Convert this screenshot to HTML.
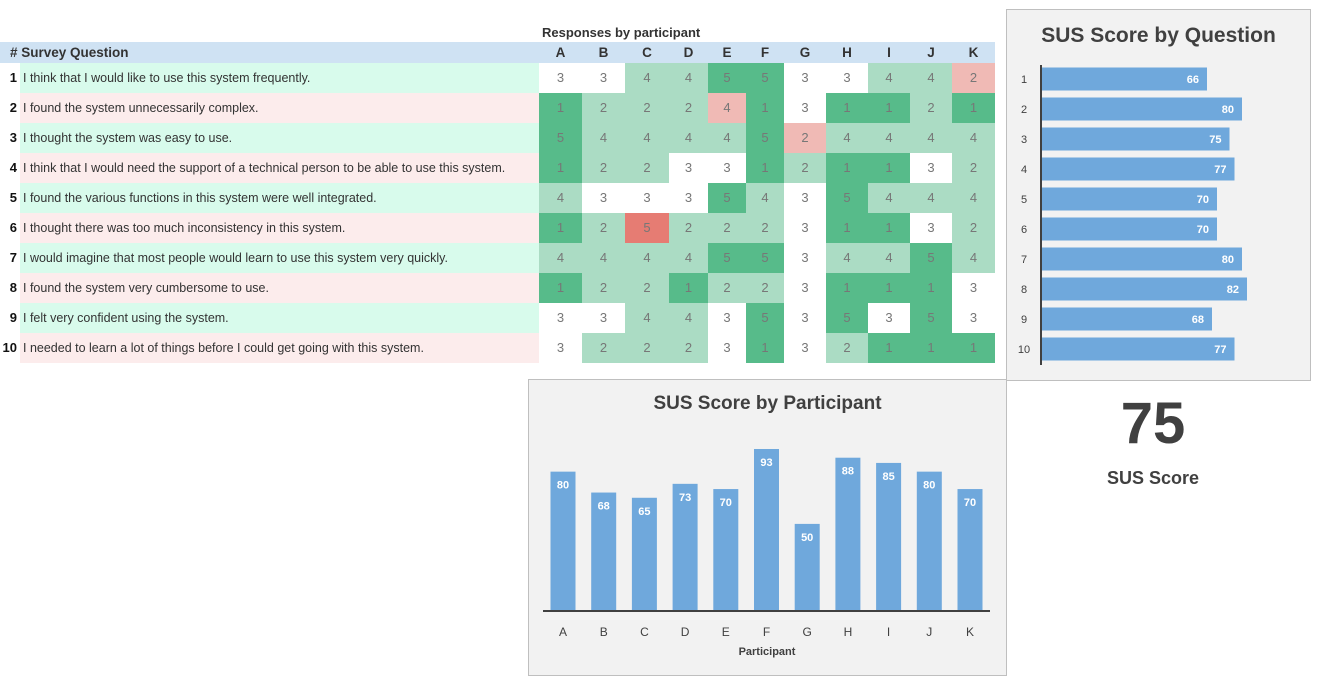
<!DOCTYPE html>
<html><head><meta charset="utf-8"><style>
body{margin:0;width:1319px;height:686px;background:#fff;position:relative;overflow:hidden;font-family:"Liberation Sans",sans-serif}
.abs{position:absolute}
.q{position:absolute;left:20px;width:519px;height:30px;line-height:30px;font-size:12.5px;color:#333;padding-left:3px;box-sizing:border-box}
.qn{position:absolute;left:0;width:20px;text-align:right;height:30px;line-height:30px;font-size:13px;font-weight:bold;color:#111;padding-right:3px;box-sizing:border-box}
.c{position:absolute;height:30px;line-height:30px;text-align:center;font-size:13px;color:#777}
.panel{position:absolute;background:#f2f2f2;border:1px solid #bfbfbf;box-sizing:border-box}
</style></head><body>
<div class="abs" style="left:542px;top:25px;font-size:13px;font-weight:bold;color:#333">Responses by participant</div>
<div class="abs" style="left:0;top:42px;width:995px;height:21px;background:#cfe2f3"></div>
<div class="abs" style="left:10px;top:42px;line-height:22px;font-size:13.5px;font-weight:bold;color:#333"># Survey Question</div>
<div id="grid"></div>
<div class="panel" style="left:1006px;top:9px;width:305px;height:372px"></div>
<div class="abs" style="left:1006px;top:24px;width:305px;text-align:center;font-size:21px;font-weight:bold;color:#404040">SUS Score by Question</div>
<svg id="qchart" class="abs" style="left:1006px;top:9px" width="305" height="372"></svg>
<div class="panel" style="left:528px;top:379px;width:479px;height:297px"></div>
<div class="abs" style="left:528px;top:393px;width:479px;text-align:center;font-size:19px;font-weight:bold;color:#404040">SUS Score by Participant</div>
<svg id="pchart" class="abs" style="left:528px;top:379px" width="479" height="297"></svg>
<div class="abs" style="left:1006px;top:390px;width:294px;text-align:center;font-size:58px;font-weight:bold;color:#404040">75</div>
<div class="abs" style="left:1006px;top:468px;width:294px;text-align:center;font-size:18px;font-weight:bold;color:#404040">SUS Score</div>
<script>
const questions=["I think that I would like to use this system frequently.","I found the system unnecessarily complex.","I thought the system was easy to use.","I think that I would need the support of a technical person to be able to use this system.","I found the various functions in this system were well integrated.","I thought there was too much inconsistency in this system.","I would imagine that most people would learn to use this system very quickly.","I found the system very cumbersome to use.","I felt very confident using the system.","I needed to learn a lot of things before I could get going with this system."];
const participants=["A","B","C","D","E","F","G","H","I","J","K"];
const responses=[[3,3,4,4,5,5,3,3,4,4,2],[1,2,2,2,4,1,3,1,1,2,1],[5,4,4,4,4,5,2,4,4,4,4],[1,2,2,3,3,1,2,1,1,3,2],[4,3,3,3,5,4,3,5,4,4,4],[1,2,5,2,2,2,3,1,1,3,2],[4,4,4,4,5,5,3,4,4,5,4],[1,2,2,1,2,2,3,1,1,1,3],[3,3,4,4,3,5,3,5,3,5,3],[3,2,2,2,3,1,3,2,1,1,1]];
const questionScores=[66,80,75,77,70,70,80,82,68,77];
const participantScores=[80,68,65,73,70,93,50,88,85,80,70];
const colX=[539,582,625,669,708,746,784,826,868,910,952,995];
const g=document.getElementById('grid');
const pal={5:'#57bb8a',4:'#abdcc4',3:'#ffffff',2:'#f0bab5',1:'#e67c73'};
participants.forEach((p,j)=>{const d=document.createElement('div');


d.className='c';d.style.cssText=`left:${colX[j]}px;width:${colX[j+1]-colX[j]}px;top:42px;height:21px;line-height:22px;font-weight:bold;color:#333;font-size:13.5px`;d.textContent=p;g.appendChild(d);});
questions.forEach((q,i)=>{const y=63+30*i;
const n=document.createElement('div');n.className='qn';n.style.top=y+'px';n.textContent=i+1;

g.appendChild(n);
const t=document.createElement('div');t.className='q';t.style.top=y+'px';t.style.background=i%2==0?'#d8fbec':'#fcecec';t.textContent=q;

g.appendChild(t);
responses[i].forEach((v,j)=>{const c=document.createElement('div');c.className='c';
const k=i%2==0?v:6-v;
c.style.cssText=`left:${colX[j]}px;width:${colX[j+1]-colX[j]}px;top:${y}px;background:${pal[k]}`;c.textContent=v;

g.appendChild(c);});});
const NS='http://www.w3.org/2000/svg';
function el(s,tag,a,txt){const e=document.createElementNS(NS,tag);for(const k in a)e.setAttribute(k,a[k]);if(txt!==undefined)e.textContent=txt;s.appendChild(e);return e;}
// question chart (local coords)
const qs=document.getElementById('qchart');
const qx=v=>36+v*2.5, qy=i=>70+30*i;
questionScores.forEach((v,i)=>{
const r=el(qs,'rect',{x:qx(0),y:qy(i)-11.5,width:qx(v)-qx(0),height:23,fill:'#6fa8dc'});


const l=el(qs,'text',{x:qx(v)-8,y:qy(i)+4,'text-anchor':'end','font-size':11,'font-weight':'bold',fill:'#fff','font-family':'Liberation Sans'},v);


const t=el(qs,'text',{x:18,y:qy(i)+4,'text-anchor':'middle','font-size':11,fill:'#404040','font-family':'Liberation Sans'},i+1);

});
const qa=el(qs,'line',{x1:35,x2:35,y1:56,y2:356,stroke:'#404040','stroke-width':2});


// participant chart
const ps=document.getElementById('pchart');
const px=j=>35+40.7*j, py=v=>232-v*1.742;
participantScores.forEach((v,j)=>{
const r=el(ps,'rect',{x:px(j)-12.5,y:py(v),width:25,height:232-py(v),fill:'#6fa8dc'});


const l=el(ps,'text',{x:px(j),y:py(v)+17,'text-anchor':'middle','font-size':11,'font-weight':'bold',fill:'#fff','font-family':'Liberation Sans'},v);


const t=el(ps,'text',{x:px(j),y:257,'text-anchor':'middle','font-size':12,fill:'#404040','font-family':'Liberation Sans'},participants[j]);

});
const pa=el(ps,'line',{x1:15,x2:462,y1:232,y2:232,stroke:'#404040','stroke-width':2});


const at=el(ps,'text',{x:239,y:276,'text-anchor':'middle','font-size':11,'font-weight':'bold',fill:'#404040','font-family':'Liberation Sans'},'Participant');


</script>
</body></html>
